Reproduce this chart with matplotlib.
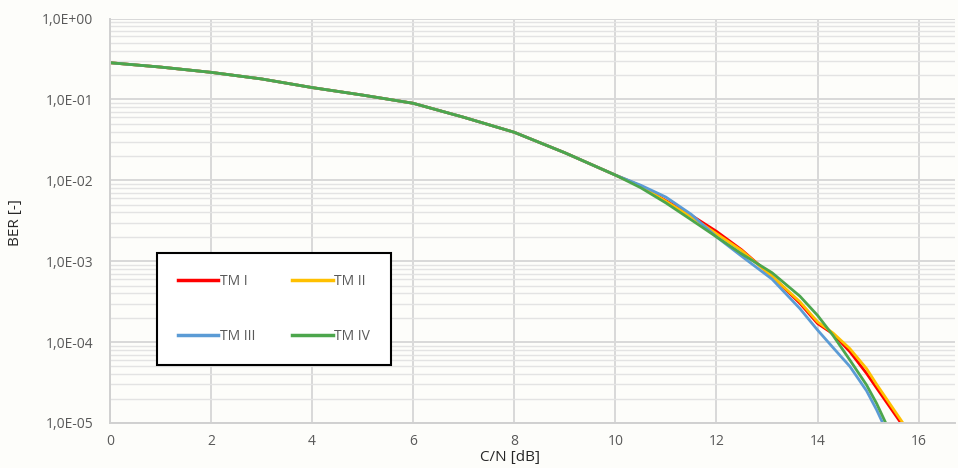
import matplotlib.pyplot as plt
from matplotlib.ticker import FuncFormatter, LogLocator, MultipleLocator

plt.rcParams['font.family'] = ['Open Sans', 'DejaVu Sans']

# C/N [dB] and BER points (all four curves coincide below 10 dB)
cn_common = [0, 1, 2, 3, 4, 5, 6, 7, 8, 9, 10]
ber_common = [0.284, 0.251, 0.216, 0.179, 0.140, 0.113, 0.0895, 0.0601,
              0.0392, 0.0219, 0.0116]

cn_tm1 = [10.5, 11, 11.5, 12, 12.5, 13.1, 13.65, 14, 14.31, 14.64, 14.97, 15.17, 15.65]
ber_tm1 = [8.5e-3, 5.6e-3, 3.7e-3, 2.34e-3, 1.38e-3, 6.5e-4, 3.02e-4, 1.70e-4,
           1.26e-4, 7.6e-5, 4.1e-5, 2.7e-5, 1e-5]

cn_tm2 = [10.5, 11, 11.5, 12, 12.5, 13.1, 13.65, 14, 14.31, 14.64, 14.97, 15.17, 15.69]
ber_tm2 = [8.5e-3, 5.5e-3, 3.55e-3, 2.19e-3, 1.35e-3, 6.5e-4, 3.16e-4, 1.78e-4,
           1.29e-4, 8.3e-5, 4.7e-5, 3.0e-5, 1e-5]

cn_tm3 = [10.5, 11, 11.5, 12, 12.5, 13.1, 13.65, 14, 14.31, 14.64, 14.97, 15.17, 15.29]
ber_tm3 = [8.7e-3, 6.2e-3, 3.8e-3, 2.0e-3, 1.15e-3, 6.0e-4, 2.6e-4, 1.41e-4,
           8.5e-5, 5.0e-5, 2.5e-5, 1.45e-5, 1e-5]

cn_tm4 = [10.5, 11, 11.5, 12, 12.5, 13.1, 13.65, 14, 14.31, 14.64, 14.97, 15.17, 15.35]
ber_tm4 = [8.1e-3, 5.25e-3, 3.25e-3, 2.0e-3, 1.23e-3, 7.2e-4, 3.7e-4, 2.14e-4,
           1.2e-4, 6.0e-5, 2.95e-5, 1.74e-5, 1e-5]

series = [('TM I', cn_tm1, ber_tm1, '#FF0000'),
          ('TM II', cn_tm2, ber_tm2, '#FFC000'),
          ('TM III', cn_tm3, ber_tm3, '#5B9BD5'),
          ('TM IV', cn_tm4, ber_tm4, '#4CA64C')]

bg = '#FDFDFA'
fig = plt.figure(figsize=(9.58, 4.68), dpi=100, facecolor=bg)
ax = fig.add_axes([110 / 958, 1 - 423 / 468, 845 / 958, 404.5 / 468])
ax.set_facecolor(bg)

lines = {}
for name, cn, ber, col in series:
    ln, = ax.plot(cn_common + cn, ber_common + ber, color=col, lw=2.0,
                  label=name, solid_joinstyle='round')
    lines[name] = ln

ax.set_yscale('log')
ax.set_ylim(1e-5, 1)
ax.set_xlim(0, 16.72)
ax.xaxis.set_major_locator(MultipleLocator(2))
ax.yaxis.set_major_locator(LogLocator(base=10, numticks=10))
ax.yaxis.set_minor_locator(LogLocator(base=10, subs=range(2, 10), numticks=100))
ax.yaxis.set_major_formatter(FuncFormatter(lambda v, p: f"{v:.1E}".replace('.', ',')))

ax.grid(True, which='major', axis='both', color='#D9D9D9', lw=1.4)
ax.grid(True, which='minor', axis='y', color='#E3E3E3', lw=1.0)
ax.set_axisbelow(True)
for s in ['top', 'right']:
    ax.spines[s].set_visible(False)
for s in ['left', 'bottom']:
    ax.spines[s].set_color('#D0D0D0')
    ax.spines[s].set_linewidth(1.4)

ax.tick_params(which='both', length=0, labelsize=10, labelcolor='#595959')
ax.tick_params(axis='y', pad=12)
ax.tick_params(axis='x', pad=8)

fig.text(510 / 958, 1 - 457 / 468, 'C/N [dB]', ha='center', va='center',
         fontsize=11, color='#262626')
fig.text(16 / 958, 1 - 223 / 468, 'BER [-]', ha='center', va='center',
         rotation=90, fontsize=11, color='#262626')

# legend filled row by row like Excel: TM I, TM II / TM III, TM IV
order = ['TM I', 'TM III', 'TM II', 'TM IV']
leg = ax.legend([lines[n] for n in order], order, ncol=2, loc='upper left',
                bbox_to_anchor=((157 - 110) / 845, (423 - 253) / 404.5),
                fontsize=10, frameon=True, fancybox=False, framealpha=1,
                borderpad=1.5, labelspacing=2.9, handlelength=2.9,
                handletextpad=0.1, columnspacing=2.7, borderaxespad=0)
leg.get_frame().set_edgecolor('black')
leg.get_frame().set_linewidth(1.5)
leg.get_frame().set_facecolor('white')
for t in leg.get_texts():
    t.set_color('#595959')
for h in leg.get_lines():
    h.set_linewidth(2.5)

fig.savefig('out.png', dpi=100, facecolor=bg)
